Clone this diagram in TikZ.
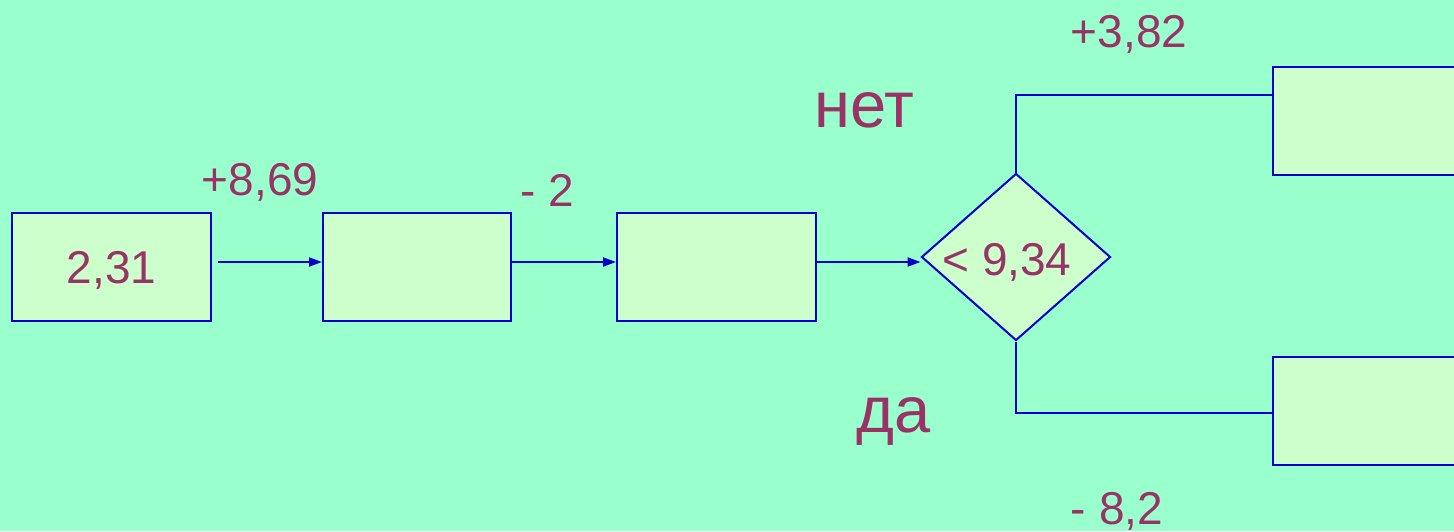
\documentclass[tikz,border=0pt]{standalone}
\usepackage{fontspec}
\setmainfont{Liberation Sans}
\usetikzlibrary{shapes.geometric,arrows.meta}
\definecolor{bg}{HTML}{99FFCC}
\definecolor{boxfill}{HTML}{CCFFCC}
\definecolor{edge}{HTML}{0000CC}
\definecolor{txt}{HTML}{993366}
\tikzset{
  blk/.style={draw=edge, fill=boxfill, line width=1pt, rectangle, inner sep=0pt, minimum width=99.5pt, minimum height=54pt},
  cond/.style={draw=edge, fill=boxfill, line width=1pt, diamond, inner sep=0pt, minimum width=94.5pt, minimum height=83.5pt},
  conn/.style={draw=edge, line width=1pt},
  arr/.style={conn, -{Triangle[length=6.5pt,width=4.5pt]}},
  num/.style={text=txt, font=\fontsize{23}{23}\selectfont, anchor=base, inner sep=0pt},
  word/.style={text=txt, font=\fontsize{32.5}{32.5}\selectfont, anchor=base, inner sep=0pt}
}
\begin{document}
\begin{tikzpicture}[x=0.5pt, y=-0.5pt]
\useasboundingbox (0,0) rectangle (1454,531);
\clip (0,0) rectangle (1454,531);
\fill[bg] (0,0) rectangle (1454,531);
\node[blk, minimum width=99.5pt] (b1) at (111.5,267) {};
\node[blk, minimum width=94pt] (b2) at (417,267) {};
\node[blk, minimum width=99.5pt] (b3) at (716.5,267) {};
\node[cond] (d) at (1016,257) {};
\node[blk] (b4) at (1372,120.5) {};
\node[blk] (b5) at (1372,410.5) {};
\coordinate (t1) at (1274,95);
\coordinate (t2) at (1274,413);
\draw[arr, shorten <=3pt] ([yshift=2.5pt]b1.east) -- ([yshift=2.5pt]b2.west);
\draw[arr] ([yshift=2.5pt]b2.east) -- ([yshift=2.5pt]b3.west);
\coordinate (a3) at ([yshift=2.5pt]b3.east);
\draw[arr] (a3) -- (a3 -| d.west);
\draw[conn] (d.north) |- (t1);
\draw[conn] (d.south) |- (t2);
\node[num] (v1) at (111.5,283) {2,31};
\node[num] (c) at (1007,275) {< 9,34};
\node[num] (l1) at (260,195) {+8,69};
\node[num] (l2) at (547,206) {- 2};
\node[num] (l3) at (1129,47) {+3,82};
\node[num] (l4) at (1117,524) {- 8,2};
\node[word] (no) at (864,127) {нет};
\node[word] (yes) at (894,432) {да};
\end{tikzpicture}
\end{document}
